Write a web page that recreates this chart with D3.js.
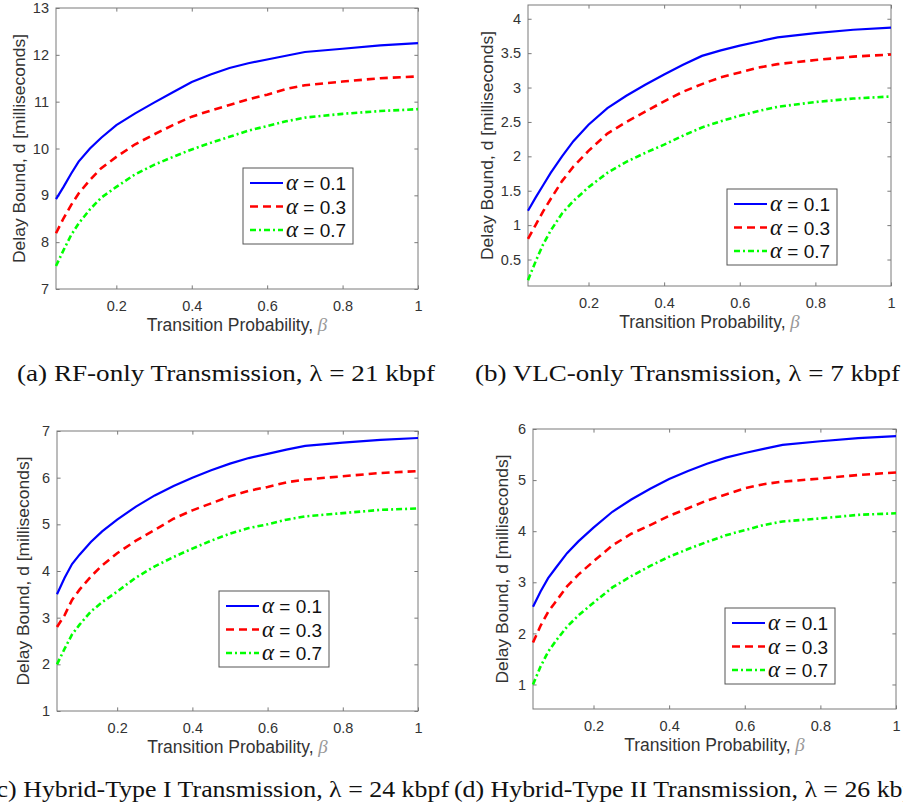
<!DOCTYPE html>
<html>
<head>
<meta charset="utf-8">
<script src="https://cdn.jsdelivr.net/npm/d3@7"></script>
<style>
  body { margin: 0; background: #fff; }
  svg { display: block; }
</style>
</head>
<body>
<svg id="chart" width="903" height="808"></svg>
<script>
// transition probability beta (x values shared by all panels)
const betaValues = [0.04, 0.06, 0.08, 0.1, 0.13, 0.16, 0.2, 0.25, 0.3, 0.35, 0.4, 0.45, 0.5, 0.55, 0.6, 0.65, 0.7, 0.8, 0.9, 1.0];

// (a) RF-only
const rfAlpha01 = [8.92, 9.18, 9.46, 9.72, 10.0, 10.23, 10.5, 10.75, 10.98, 11.2, 11.42, 11.58, 11.72, 11.82, 11.9, 11.98, 12.06, 12.13, 12.2, 12.25];
const rfAlpha03 = [8.19, 8.51, 8.79, 9.04, 9.33, 9.58, 9.82, 10.09, 10.3, 10.5, 10.68, 10.81, 10.93, 11.05, 11.15, 11.27, 11.35, 11.43, 11.5, 11.54];
const rfAlpha07 = [7.49, 7.83, 8.15, 8.4, 8.7, 8.95, 9.18, 9.45, 9.65, 9.82, 9.98, 10.12, 10.25, 10.38, 10.48, 10.58, 10.66, 10.74, 10.8, 10.84];

// (b) VLC-only
const vlcAlpha01 = [1.21, 1.4, 1.58, 1.76, 2.0, 2.22, 2.46, 2.7, 2.88, 3.04, 3.19, 3.33, 3.46, 3.54, 3.61, 3.67, 3.73, 3.79, 3.84, 3.87];
const vlcAlpha03 = [0.8, 1.0, 1.2, 1.38, 1.64, 1.85, 2.08, 2.33, 2.5, 2.65, 2.8, 2.94, 3.05, 3.15, 3.22, 3.29, 3.34, 3.4, 3.45, 3.48];
const vlcAlpha07 = [0.2, 0.47, 0.72, 0.92, 1.17, 1.35, 1.55, 1.76, 1.92, 2.05, 2.17, 2.3, 2.42, 2.51, 2.59, 2.66, 2.72, 2.79, 2.84, 2.87];

// (c) Hybrid-Type I
const hyb1Alpha01 = [3.5, 3.85, 4.15, 4.35, 4.62, 4.85, 5.1, 5.38, 5.62, 5.82, 6.0, 6.16, 6.3, 6.42, 6.51, 6.6, 6.68, 6.75, 6.81, 6.85];
const hyb1Alpha03 = [2.8, 3.05, 3.38, 3.6, 3.88, 4.12, 4.38, 4.65, 4.88, 5.12, 5.3, 5.45, 5.6, 5.72, 5.8, 5.9, 5.96, 6.03, 6.1, 6.14];
const hyb1Alpha07 = [2.0, 2.33, 2.64, 2.85, 3.13, 3.33, 3.56, 3.86, 4.1, 4.3, 4.48, 4.65, 4.8, 4.92, 5.0, 5.1, 5.17, 5.24, 5.31, 5.34];

// (d) Hybrid-Type II
const hyb2Alpha01 = [2.52, 2.82, 3.08, 3.28, 3.57, 3.8, 4.07, 4.38, 4.62, 4.83, 5.02, 5.18, 5.32, 5.44, 5.53, 5.61, 5.69, 5.76, 5.82, 5.86];
const hyb2Alpha03 = [1.82, 2.15, 2.42, 2.62, 2.92, 3.15, 3.41, 3.72, 3.95, 4.12, 4.3, 4.45, 4.6, 4.72, 4.84, 4.92, 4.97, 5.03, 5.1, 5.15];
const hyb2Alpha07 = [1.0, 1.35, 1.64, 1.85, 2.13, 2.35, 2.6, 2.9, 3.12, 3.32, 3.5, 3.65, 3.79, 3.92, 4.02, 4.12, 4.19, 4.25, 4.32, 4.35];

const alphaLabels = ['0.1', '0.3', '0.7'];
const xTicks = [0.2, 0.4, 0.6, 0.8, 1];
const yTicksRF = [7, 8, 9, 10, 11, 12, 13];
const yTicksVLC = [0.5, 1, 1.5, 2, 2.5, 3, 3.5, 4];
const yTicksHyb1 = [1, 2, 3, 4, 5, 6, 7];
const yTicksHyb2 = [1, 2, 3, 4, 5, 6];
const captions = [
  '(a) RF-only Transmission, λ = 21 kbpf',
  '(b) VLC-only Transmission, λ = 7 kbpf',
  '(c) Hybrid-Type I Transmission, λ = 24 kbpf',
  '(d) Hybrid-Type II Transmission, λ = 26 kbpf'
];

const xLabel = 'Transition Probability, ';
const yLabel = 'Delay Bound, d [milliseconds]';

// line styles for alpha = 0.1, 0.3, 0.7
const styles = [
  { color: '#0000ff', width: 2.2, dash: null },
  { color: '#ff0000', width: 2.6, dash: '8,5' },
  { color: '#00ff00', width: 2.6, dash: '6,3,2,3' }
];

// panel layout (pixels)
const panels = [
  { x0: 56, x1: 418, y0: 8, y1: 289, yDomain: [7, 13], yTicks: yTicksRF,
    series: [rfAlpha01, rfAlpha03, rfAlpha07], legend: [243, 168], ylabOff: 37,
    caption: captions[0], capX: 17, capY: 381, capW: 418 },
  { x0: 528, x1: 891, y0: 5, y1: 286, yDomain: [0.115, 4.2], yTicks: yTicksVLC,
    series: [vlcAlpha01, vlcAlpha03, vlcAlpha07], legend: [727, 189], ylabOff: 41,
    caption: captions[1], capX: 475, capY: 381, capW: 425 },
  { x0: 57, x1: 418, y0: 431, y1: 711, yDomain: [1, 7], yTicks: yTicksHyb1,
    series: [hyb1Alpha01, hyb1Alpha03, hyb1Alpha07], legend: [219, 591], ylabOff: 34,
    caption: captions[2], capX: -12, capY: 797, capW: 461 },
  { x0: 533, x1: 896, y0: 429, y1: 709, yDomain: [0.52, 6], yTicks: yTicksHyb2,
    series: [hyb2Alpha01, hyb2Alpha03, hyb2Alpha07], legend: [725, 608], ylabOff: 31,
    caption: captions[3], capX: 454, capY: 797, capW: 470 }
];

const svg = d3.select('#chart');
const frameColor = '#7a7a7a';
const textColor = '#333';
const tick = 3.6;

panels.forEach(p => {
  const x = d3.scaleLinear().domain([0.04, 1]).range([p.x0, p.x1]);
  const y = d3.scaleLinear().domain(p.yDomain).range([p.y1, p.y0]);
  const g = svg.append('g');

  // axes with inward ticks on all four sides
  const gx = g.append('g').attr('transform', `translate(0,${p.y1})`)
    .call(d3.axisBottom(x).tickValues(xTicks).tickSize(-tick).tickPadding(12).tickFormat(d => String(d)));
  const gxt = g.append('g').attr('transform', `translate(0,${p.y0})`)
    .call(d3.axisTop(x).tickValues(xTicks).tickSize(-tick).tickFormat(''));
  const gy = g.append('g').attr('transform', `translate(${p.x0},0)`)
    .call(d3.axisLeft(y).tickValues(p.yTicks).tickSize(-tick).tickPadding(7).tickFormat(d => String(d)));
  const gyr = g.append('g').attr('transform', `translate(${p.x1},0)`)
    .call(d3.axisRight(y).tickValues(p.yTicks).tickSize(-tick).tickFormat(''));

  [gx, gxt, gy, gyr].forEach(a => {
    a.select('.domain').remove();
    a.selectAll('line').attr('stroke', frameColor);
    a.selectAll('text').attr('fill', textColor)
      .style('font-family', '"Liberation Sans", Arial, sans-serif').style('font-size', '14.5px');
  });

  g.append('rect')
    .attr('x', p.x0).attr('y', p.y0)
    .attr('width', p.x1 - p.x0).attr('height', p.y1 - p.y0)
    .attr('fill', 'none').attr('stroke', frameColor).attr('stroke-width', 1);

  // curves
  const line = d3.line().x(d => x(d[0])).y(d => y(d[1]));
  p.series.forEach((vals, i) => {
    const pts = betaValues.map((b, j) => [b, vals[j]]);
    g.append('path')
      .datum(pts)
      .attr('d', line)
      .attr('fill', 'none')
      .attr('stroke', styles[i].color)
      .attr('stroke-width', styles[i].width)
      .attr('stroke-dasharray', styles[i].dash);
  });

  // axis titles
  const xt = g.append('text')
    .attr('x', (p.x0 + p.x1) / 2).attr('y', p.y1 + 42)
    .attr('text-anchor', 'middle').attr('fill', textColor)
    .style('font-family', '"Liberation Sans", Arial, sans-serif').style('font-size', '17.5px')
    .text(xLabel);
  xt.append('tspan').text('β')
    .style('font-family', '"Liberation Serif", serif').style('font-style', 'italic')
    .style('font-size', '19px').attr('fill', '#999');

  g.append('text')
    .attr('transform', `translate(${p.x0 - p.ylabOff + 6},${(p.y0 + p.y1) / 2}) rotate(-90)`)
    .attr('text-anchor', 'middle').attr('fill', textColor)
    .attr('textLength', 229).attr('lengthAdjust', 'spacingAndGlyphs')
    .style('font-family', '"Liberation Sans", Arial, sans-serif').style('font-size', '17px')
    .text(yLabel);

  // legend
  const [lx, ly] = p.legend;
  const lg = g.append('g').attr('transform', `translate(${lx},${ly})`);
  lg.append('rect').attr('width', 110).attr('height', 76)
    .attr('fill', '#fff').attr('stroke', '#555').attr('stroke-width', 1);
  alphaLabels.forEach((lab, i) => {
    const ry = 15 + i * 23.5;
    lg.append('line')
      .attr('x1', 7).attr('x2', 40).attr('y1', ry).attr('y2', ry)
      .attr('stroke', styles[i].color)
      .attr('stroke-width', styles[i].width)
      .attr('stroke-dasharray', styles[i].dash);
    const t = lg.append('text')
      .attr('x', 43).attr('y', ry + 7).attr('fill', '#111')
      .style('font-family', '"Liberation Sans", Arial, sans-serif').style('font-size', '19px');
    t.append('tspan').text('α')
      .style('font-family', '"Liberation Serif", serif').style('font-style', 'italic').style('font-size', '23px');
    t.append('tspan').text(' = ' + lab);
  });

  // caption
  svg.append('text')
    .attr('x', p.capX).attr('y', p.capY)
    .attr('textLength', p.capW).attr('lengthAdjust', 'spacingAndGlyphs')
    .attr('fill', '#111')
    .style('font-family', '"Liberation Serif", "Times New Roman", serif').style('font-size', '23px')
    .text(p.caption);
});
</script>
</body>
</html>
